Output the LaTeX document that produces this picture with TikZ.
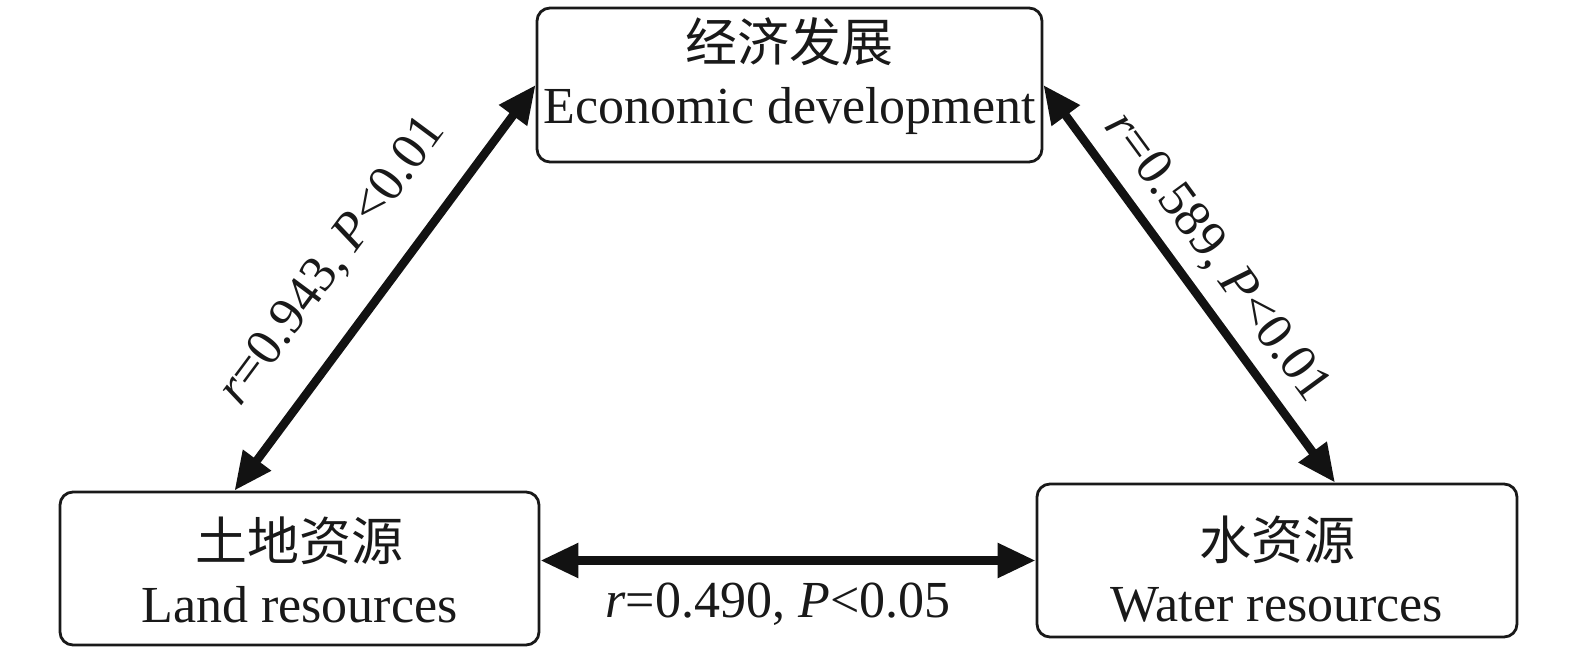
\documentclass[tikz,border=0pt]{standalone}
\usepackage{fontspec}
\setmainfont{Liberation Serif}
\newfontfamily\cjk{Noto Sans CJK SC}
\usetikzlibrary{arrows.meta}
\begin{document}
\begin{tikzpicture}[x=1pt,y=-1pt,
  box/.style={draw=black!90, line width=2.8pt, rounded corners=13pt, inner sep=0pt},
  txt/.style={align=center, inner sep=0pt, font=\fontsize{52}{62}\selectfont, text=black!90},
  link/.style={line width=8.5pt, draw=black!93, {Triangle[length=38pt,width=33pt]}-{Triangle[length=38pt,width=33pt]}},
  lab/.style={font=\fontsize{52}{62}\selectfont, inner sep=8pt, text=black!90}]
\useasboundingbox (0,0) rectangle (1575,650);
\node[box, minimum width=505pt, minimum height=154pt] (eco) at (789.5,85) {};
\node[box, minimum width=479pt, minimum height=153pt] (land) at (299.5,568.5) {};
\node[box, minimum width=480pt, minimum height=153pt] (water) at (1277,560.5) {};
\node[txt] (ecoT) at ([yshift=9pt]eco.center) {{\cjk 经济发展}\\Economic development};
\node[txt] (landT) at ([yshift=-1pt]land.center) {{\cjk 土地资源}\\Land resources};
\node[txt] (waterT) at ([yshift=-9pt]water.center) {{\cjk 水资源}\\Water resources};
\coordinate (landtip) at ([xshift=-65pt]land.north);
\coordinate (watertip) at ([xshift=58pt]water.north);
\coordinate (landside) at (land.east |- water.west);
\draw[link] (eco.west) -- node[lab, pos=0.52, sloped, above, inner sep=32pt] {\textit{r}=0.943, \textit{P}<0.01} (landtip);
\draw[link] (eco.east) -- node[lab, pos=0.49, sloped, above, inner sep=12pt] {\textit{r}=0.589, \textit{P}<0.01} (watertip);
\draw[link] (landside) -- node[lab, midway, below, xshift=-10pt, inner sep=18pt] {\textit{r}=0.490, \textit{P}<0.05} (water.west);
\end{tikzpicture}
\end{document}
